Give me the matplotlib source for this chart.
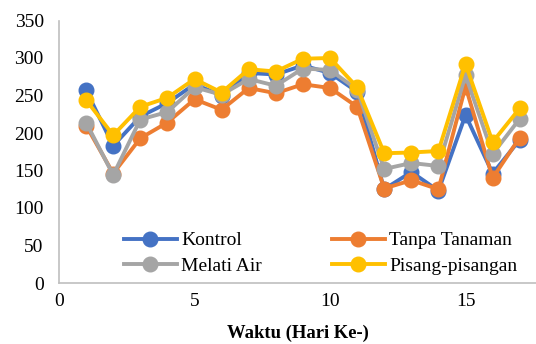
import matplotlib.pyplot as plt

# Data
hari = [1, 2, 3, 4, 5, 6, 7, 8, 9, 10, 11, 12, 13, 14, 15, 16, 17]
kontrol = [257, 183, 222, 240, 265, 250, 280, 278, 290, 280, 255, 125, 148, 123, 224, 146, 191]
tanpa_tanaman = [210, 146, 193, 214, 245, 231, 260, 253, 265, 260, 235, 126, 137, 125, 262, 140, 194]
melati_air = [214, 144, 218, 228, 261, 251, 272, 263, 286, 284, 258, 152, 160, 156, 277, 172, 219]
pisang = [244, 197, 235, 247, 272, 254, 285, 282, 299, 300, 261, 173, 174, 176, 292, 188, 233]

series = [
    ("Kontrol", kontrol, "#4472C4"),
    ("Tanpa Tanaman", tanpa_tanaman, "#ED7D31"),
    ("Melati Air", melati_air, "#A5A5A5"),
    ("Pisang-pisangan", pisang, "#FFC000"),
]

plt.rcParams['font.family'] = ['Liberation Serif', 'DejaVu Serif']

fig = plt.figure(figsize=(5.36, 3.44), dpi=100)
ax = fig.add_axes([59 / 536, 1 - 283 / 344, 1 - 59 / 536, (283 - 20.5) / 344])

lines = {}
for name, vals, col in series:
    lines[name], = ax.plot(hari, vals, color=col, lw=2.8, marker='o', ms=10.5, label=name)

ax.set_xlim(0, 17.6)
ax.set_ylim(0, 350)
ax.set_xticks([0, 5, 10, 15])
ax.set_yticks(range(0, 351, 50))
ax.tick_params(length=0, labelsize=14)
ax.tick_params(axis='y', pad=11)
ax.tick_params(axis='x', pad=7)
for s in ['top', 'right']:
    ax.spines[s].set_visible(False)
for s in ['left', 'bottom']:
    ax.spines[s].set_color('#BFBFBF')
    ax.spines[s].set_linewidth(1.2)

ax.set_xlabel("Waktu (Hari Ke-)", fontsize=13.4, fontweight='bold', labelpad=11)

# column-wise fill: Kontrol / Melati Air, then Tanpa Tanaman / Pisang-pisangan
order = ["Kontrol", "Melati Air", "Tanpa Tanaman", "Pisang-pisangan"]
ax.legend([lines[n] for n in order], order, loc='lower left',
          bbox_to_anchor=(0.12, 0.0), ncol=2, frameon=False,
          fontsize=14, columnspacing=3.6, handlelength=2.7, handletextpad=0.25,
          labelspacing=0.42, borderaxespad=0)

fig.savefig('out.png', dpi=100)
